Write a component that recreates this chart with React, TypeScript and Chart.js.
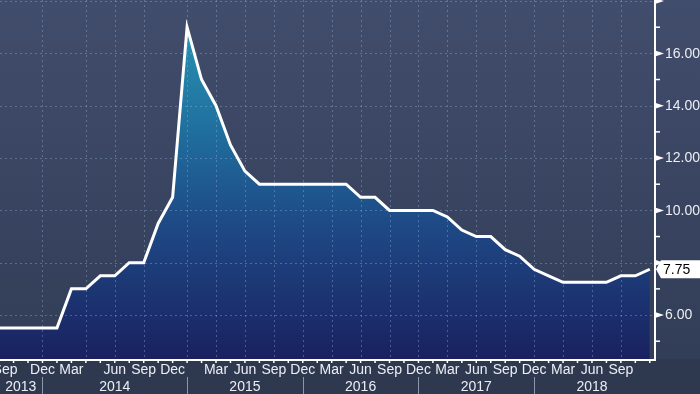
import React, { useEffect, useRef } from 'react';
import { Chart, registerables } from 'chart.js';

Chart.register(...registerables);

// Policy rate, one value per observation (category index 0..45)
const rates = [
  5.5, 5.5, 5.5, 5.5, 5.5, 7, 7, 7.5, 7.5, 8, 8, 9.5, 10.5, 17, 15, 14, 12.5, 11.5,
  11, 11, 11, 11, 11, 11, 11, 10.5, 10.5, 10, 10, 10, 10, 9.75, 9.25, 9, 9, 8.5, 8.25,
  7.75, 7.5, 7.25, 7.25, 7.25, 7.25, 7.5, 7.5, 7.75,
];

// Month tick labels per category ('' = tick only)
const categories = [
  'Sep', '', '', 'Dec', '', 'Mar', '', '', 'Jun', '', 'Sep', '', 'Dec', '', '', 'Mar',
  '', 'Jun', '', 'Sep', '', 'Dec', '', 'Mar', '', 'Jun', '', 'Sep', '', 'Dec', '', 'Mar',
  '', 'Jun', '', 'Sep', '', 'Dec', '', 'Mar', '', 'Jun', '', 'Sep', '', '',
];

const yearLabels = ['2013', '2014', '2015', '2016', '2017', '2018'];
const yearBreaks = [3, 13, 21, 29, 37];
const gridCategories = [3, 6, 8, 10, 13, 15, 17, 19, 21, 23, 25, 27, 29, 31, 33, 35, 37, 39, 41, 43];

const yMajor = [6, 8, 10, 12, 14, 16, 18];
const yLabelled = [6, 10, 12, 14, 16];
const yMinor = [5, 7, 9, 11, 13, 15, 17];

const FONT = '14px "Liberation Sans", Arial, sans-serif';

const decor = {
  id: 'decor',
  beforeDraw(chart: any) {
    const { ctx, width, height, chartArea: a } = chart;
    ctx.save();
    const g = ctx.createLinearGradient(0, 0, 0, a.bottom);
    g.addColorStop(0, '#414d6c');
    g.addColorStop(1, '#323d57');
    ctx.fillStyle = g;
    ctx.fillRect(0, 0, width, a.bottom);
    ctx.fillStyle = '#2e3950';
    ctx.fillRect(0, a.bottom, width, height - a.bottom);
    ctx.restore();
  },
  afterDatasetDraw(chart: any, args: any) {
    if (args.index !== 1) return;
    const { ctx, chartArea: a, scales } = chart;
    const x = scales.x, y = scales.y;
    ctx.save();
    ctx.beginPath();
    ctx.rect(a.left, a.top, a.right - a.left, a.bottom - a.top);
    ctx.clip();
    ctx.strokeStyle = 'rgba(150,175,215,0.40)';
    ctx.lineWidth = 1;
    ctx.setLineDash([2, 3]);
    for (const v of yMajor) {
      const py = Math.round(y.getPixelForValue(v)) + 0.5;
      ctx.beginPath();
      ctx.moveTo(a.left, py);
      ctx.lineTo(a.right, py);
      ctx.stroke();
    }
    for (const i of gridCategories) {
      const px = Math.round(x.getPixelForValue(i)) + 0.5;
      ctx.beginPath();
      ctx.moveTo(px, a.top);
      ctx.lineTo(px, a.bottom);
      ctx.stroke();
    }
    ctx.restore();
  },
  afterDraw(chart: any) {
    const { ctx, width, height, chartArea: a, scales } = chart;
    const x = scales.x, y = scales.y;
    ctx.save();
    // axis lines
    ctx.strokeStyle = '#ffffff';
    ctx.lineWidth = 2;
    ctx.beginPath();
    ctx.moveTo(a.right, 0);
    ctx.lineTo(a.right, a.bottom + 1);
    ctx.moveTo(a.left, a.bottom + 1);
    ctx.lineTo(a.right + 1, a.bottom + 1);
    ctx.stroke();
    // x ticks
    ctx.lineWidth = 1.5;
    for (let i = 0; i < categories.length; i++) {
      const px = x.getPixelForValue(i);
      if (px < a.left - 1 || px > a.right) continue;
      ctx.beginPath();
      ctx.moveTo(px, a.bottom + 1);
      ctx.lineTo(px, a.bottom + 4);
      ctx.stroke();
    }
    // y minor ticks
    for (const v of yMinor) {
      const py = y.getPixelForValue(v);
      ctx.beginPath();
      ctx.moveTo(a.right, py);
      ctx.lineTo(a.right + 5, py);
      ctx.stroke();
    }
    // y major triangles
    ctx.fillStyle = '#ffffff';
    for (const v of yMajor) {
      const py = y.getPixelForValue(v);
      ctx.beginPath();
      ctx.moveTo(a.right, py - 3);
      ctx.lineTo(a.right + 9, py);
      ctx.lineTo(a.right, py + 3);
      ctx.closePath();
      ctx.fill();
    }
    // y labels
    ctx.font = FONT;
    ctx.fillStyle = '#eceef3';
    ctx.textAlign = 'left';
    ctx.textBaseline = 'middle';
    for (const v of yLabelled) {
      ctx.fillText(v.toFixed(2), a.right + 10, y.getPixelForValue(v) + 0.5);
    }
    // last value box
    const last = rates[rates.length - 1];
    const ly = y.getPixelForValue(last);
    ctx.fillStyle = '#ffffff';
    ctx.beginPath();
    ctx.moveTo(a.right + 1, ly);
    ctx.lineTo(a.right + 6, ly - 9);
    ctx.lineTo(width, ly - 9);
    ctx.lineTo(width, ly + 9);
    ctx.lineTo(a.right + 6, ly + 9);
    ctx.closePath();
    ctx.fill();
    ctx.fillStyle = '#000000';
    ctx.fillText(last.toFixed(2), a.right + 8, ly + 0.5);
    // month labels
    ctx.fillStyle = '#eceef3';
    ctx.textAlign = 'center';
    ctx.textBaseline = 'alphabetic';
    categories.forEach((lab, i) => {
      if (!lab) return;
      let px = x.getPixelForValue(i);
      if (i === 0) px = a.left + 5;
      ctx.fillText(lab, px, a.bottom + 15);
    });
    // year labels and separators
    const bounds = [0, ...yearBreaks, categories.length - 1];
    yearLabels.forEach((lab, k) => {
      const c = (bounds[k] + bounds[k + 1]) / 2;
      ctx.fillText(lab, x.getPixelForValue(c), a.bottom + 32);
    });
    ctx.strokeStyle = '#8d96a8';
    ctx.lineWidth = 1;
    for (const b of yearBreaks) {
      const px = Math.round(x.getPixelForValue(b)) + 0.5;
      ctx.beginPath();
      ctx.moveTo(px, a.bottom + 18);
      ctx.lineTo(px, height);
      ctx.stroke();
    }
    ctx.restore();
  },
};

export default function App() {
  const ref = useRef<HTMLCanvasElement | null>(null);
  useEffect(() => {
    document.body.style.margin = '0';
    const canvas = ref.current;
    if (!canvas) return;
    const points = rates.map((v, i) => ({ x: i, y: v }));
    const chart = new Chart(canvas, {
      type: 'line',
      data: {
        datasets: [
          {
            data: points,
            borderColor: '#ffffff',
            borderWidth: 3,
            pointRadius: 0,
            fill: false,
            tension: 0,
          },
          {
            data: points,
            borderWidth: 0,
            borderColor: 'rgba(0,0,0,0)',
            pointRadius: 0,
            fill: 'start',
            backgroundColor: (c: any) => {
              const ch = c.chart;
              const a = ch.chartArea;
              if (!a) return 'rgba(0,0,0,0)';
              const g = ch.ctx.createLinearGradient(0, a.top, 0, a.bottom);
              g.addColorStop(0, '#2a9ab5');
              g.addColorStop(0.35, '#20719f');
              g.addColorStop(0.62, '#1e4a86');
              g.addColorStop(1, '#1a2160');
              return g;
            },
          },
        ],
      },
      options: {
        animation: false,
        responsive: false,
        layout: { padding: { left: 0, top: 0, right: 45, bottom: 35 } },
        scales: {
          x: { type: 'linear', min: 0.062, max: 45.36, display: false },
          y: { type: 'linear', min: 4.32, max: 18.04, display: false },
        },
        plugins: { legend: { display: false }, tooltip: { enabled: false } },
      },
      plugins: [decor],
    });
    return () => chart.destroy();
  }, []);
  return <canvas ref={ref} width={700} height={394} style={{ display: 'block' }} />;
}
